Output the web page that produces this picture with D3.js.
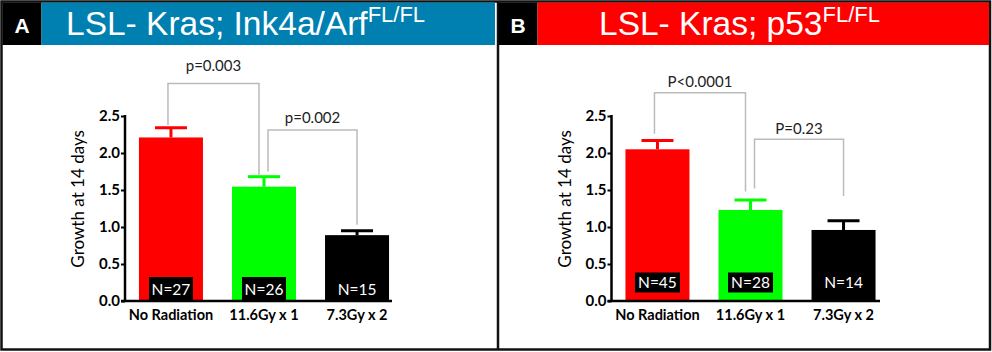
<!DOCTYPE html>
<html><head><meta charset="utf-8">
<script src="https://cdn.jsdelivr.net/npm/d3@7"></script>
<style>body{margin:0;background:#fff}svg{display:block}</style>
</head><body>
<svg id="c" width="992" height="352"></svg>
<script>
const groups = ["No Radiation", "11.6Gy x 1", "7.3Gy x 2"];
const barColors = ["#ff0000", "#00ff00", "#000000"];
const yTicks = [0, 0.5, 1.0, 1.5, 2.0, 2.5];

const meanA = [2.21, 1.545, 0.89];
const semA = [0.13, 0.135, 0.06];
const nA = [27, 26, 15];
// brackets: [from, to, top, leftEnd, rightEnd, label]
const bracketA = [
  [0, 1, 2.94, 2.38, 1.70, "p=0.003"],
  [1, 2, 2.31, 1.75, 1.03, "p=0.002"]
];

const meanB = [2.05, 1.23, 0.96];
const semB = [0.12, 0.135, 0.125];
const nB = [45, 28, 14];
const bracketB = [
  [0, 1, 2.815, 2.26, 1.48, "P<0.0001"],
  [1, 2, 2.185, 1.52, 1.42, "P=0.23"]
];

const svg = d3.select("#c");
const F = "Lato, 'Open Sans', sans-serif";

// frame
svg.append("rect").attr("x", 1.5).attr("y", 1.5).attr("width", 988.5).attr("height", 348)
  .attr("fill", "none").attr("stroke", "#111").attr("stroke-width", 2.5);
svg.append("line").attr("x1", 498).attr("x2", 498).attr("y1", 1).attr("y2", 350)
  .attr("stroke", "#111").attr("stroke-width", 2.5);

function header(x0, x1, color, letter, main, sup, tx) {
  svg.append("rect").attr("x", x0).attr("y", 2.5).attr("width", 39).attr("height", 42.5).attr("fill", "#000");
  svg.append("rect").attr("x", x0 + 39).attr("y", 2.5).attr("width", x1 - x0 - 39).attr("height", 42.5).attr("fill", color);
  svg.append("text").attr("x", x0 + 19.5).attr("y", 33).attr("text-anchor", "middle")
    .attr("font-family", "'Liberation Sans', Arial, sans-serif").attr("font-weight", "bold")
    .attr("font-size", 21).attr("fill", "#fff").text(letter);
  const t = svg.append("text").attr("x", tx).attr("y", 35)
    .attr("font-family", "'Liberation Sans', Arial, sans-serif").attr("font-size", 33.5).attr("fill", "#fff");
  t.append("tspan").text(main);
  t.append("tspan").attr("dy", -13).attr("font-size", 22).text(sup);
}
header(2.5, 495, "#0080b0", "A", "LSL- Kras; Ink4a/Arf", "FL/FL", 66);
header(498.5, 989, "#ff0000", "B", "LSL- Kras; p53", "FL/FL", 599);

function panel(ax, axEnd, means, sems, ns, brackets, nBox, labelX, labOff) {
  const y = d3.scaleLinear().domain([0, 2.5]).range([301, 116]);
  const x = d3.scaleBand().domain(groups).range([ax, ax + 278]).paddingInner(0.312).paddingOuter(0.15);
  const g = svg.append("g");
  // bars
  groups.forEach((k, i) => {
    const cx = x(k) + x.bandwidth() / 2;
    g.append("rect").attr("x", x(k)).attr("y", y(means[i])).attr("width", x.bandwidth())
      .attr("height", y(0) - y(means[i])).attr("fill", barColors[i]);
    const top = y(means[i] + sems[i]);
    g.append("line").attr("x1", cx).attr("x2", cx).attr("y1", y(means[i])).attr("y2", top)
      .attr("stroke", barColors[i]).attr("stroke-width", 3);
    g.append("line").attr("x1", cx - 16).attr("x2", cx + 16).attr("y1", top).attr("y2", top)
      .attr("stroke", barColors[i]).attr("stroke-width", 3);
    g.append("rect").attr("x", cx - nBox.w / 2).attr("y", nBox.y0).attr("width", nBox.w)
      .attr("height", nBox.h).attr("fill", "#000");
    g.append("text").attr("x", cx).attr("y", nBox.y0 + nBox.h / 2 + 5.5).attr("text-anchor", "middle")
      .attr("font-family", F).attr("font-size", 15.5).attr("fill", "#fff").text("N=" + ns[i]);
  });
  // axes
  const ya = g.append("g").attr("transform", `translate(${ax},0)`)
    .call(d3.axisLeft(y).tickValues(yTicks).tickFormat(d3.format(".1f")).tickSize(4).tickPadding(1));
  ya.select(".domain").remove();
  ya.selectAll("line").attr("stroke", "#000").attr("stroke-width", 2);
  ya.selectAll("text").attr("font-family", F).attr("font-weight", "bold").attr("font-size", 15).attr("fill", "#000");
  g.append("line").attr("x1", ax).attr("x2", ax).attr("y1", y(2.5) - 1).attr("y2", y(0) + 1)
    .attr("stroke", "#000").attr("stroke-width", 2.5);
  g.append("line").attr("x1", ax - 4).attr("x2", axEnd).attr("y1", y(0)).attr("y2", y(0))
    .attr("stroke", "#000").attr("stroke-width", 2.5);
  groups.forEach(k => {
    g.append("text").attr("x", x(k) + x.bandwidth() / 2).attr("y", 319.5).attr("text-anchor", "middle")
      .attr("font-family", F).attr("font-weight", "bold").attr("font-size", 14.5).attr("fill", "#000").text(k);
  });
  // y label
  g.append("text").attr("transform", `translate(${labelX},${y(1.38)}) rotate(-90)`).attr("text-anchor", "middle")
    .attr("font-family", F).attr("font-size", 17).attr("fill", "#000").text("Growth at 14 days");
  // brackets
  const offs = [[-3, -5], [4, 0]];
  brackets.forEach((b, j) => {
    const xa = x(groups[b[0]]) + x.bandwidth() / 2 + offs[j][0];
    const xb = x(groups[b[1]]) + x.bandwidth() / 2 + offs[j][1];
    g.append("path").attr("d", `M${xa},${y(b[3])}V${y(b[2])}H${xb}V${y(b[4])}`)
      .attr("fill", "none").attr("stroke", "#bbb").attr("stroke-width", 1.5);
    g.append("text").attr("x", (xa + xb) / 2).attr("y", y(b[2]) - labOff[j]).attr("text-anchor", "middle")
      .attr("font-family", F).attr("font-size", 15).attr("fill", "#222").text(b[5]);
  });
}
panel(125, 392, meanA, semA, nA, bracketA, {w: 44, y0: 277, h: 24}, 84, [12, 7]);
panel(611.5, 880, meanB, semB, nB, bracketB, {w: 45, y0: 272.5, h: 20}, 571, [6, 5]);
</script>
</body></html>
